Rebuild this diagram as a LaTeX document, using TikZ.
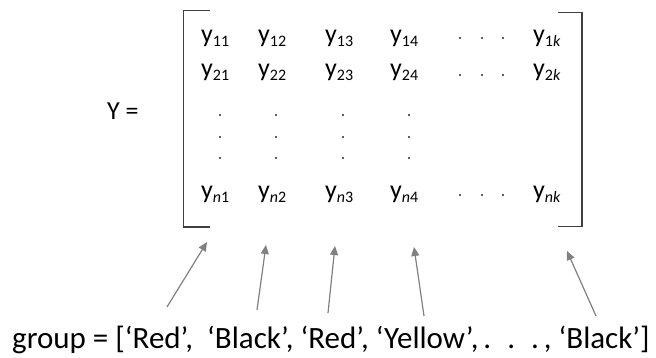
\documentclass[tikz,border=0pt]{standalone}
\usepackage{fontspec}
\setmainfont{Carlito}
\usetikzlibrary{arrows.meta}
\newcommand\mysub[1]{\raisebox{-4pt}{\fontsize{16}{16}\selectfont #1}}
\begin{document}
\begin{tikzpicture}[x=1pt,y=-1pt,
  ent/.style={anchor=base west, inner sep=0pt, font=\fontsize{26}{30}\selectfont},
  brk/.style={line width=1.4pt, draw=black!75},
  arr/.style={draw=black!50, line width=1.2pt, -{Triangle[length=9pt,width=8pt]}},
  dotc/.style={fill=black!85, circle, inner sep=0pt, minimum size=2.3pt}]
\useasboundingbox (0,0) rectangle (656,358);
% Y =
\node[ent] (Y) at (107,120) {Y =};
% brackets
\draw[brk] (210,10.5) -- (183.5,10.5) -- (183.5,227) -- (210,227);
\draw[brk] (558,12.5) -- (582,12.5) -- (582,226.5) -- (558,226.5);
% entries
\node[ent] (e11) at (201,43) {y\mysub{11}};
\node[ent] (e12) at (258,43) {y\mysub{12}};
\node[ent] (e13) at (325,43) {y\mysub{13}};
\node[ent] (e14) at (390,43) {y\mysub{14}};
\node[ent] (e1k) at (533,43) {y\mysub{1\textit{k}}};
\node[ent] (e21) at (201,77) {y\mysub{21}};
\node[ent] (e22) at (258,77) {y\mysub{22}};
\node[ent] (e23) at (325,77) {y\mysub{23}};
\node[ent] (e24) at (390,77) {y\mysub{24}};
\node[ent] (e2k) at (533,77) {y\mysub{2\textit{k}}};
\node[ent] (en1) at (201,199) {y\mysub{\textit{n}1}};
\node[ent] (en2) at (258,199) {y\mysub{\textit{n}2}};
\node[ent] (en3) at (325,199) {y\mysub{\textit{n}3}};
\node[ent] (en4) at (390,199) {y\mysub{\textit{n}4}};
\node[ent] (enk) at (533,199) {y\mysub{\textit{nk}}};
% horizontal dots
\foreach \r/\yy in {1/38,2/75,n/195}{
  \foreach \c/\xx in {a/460,b/482,c/503}{
    \node[dotc] (h\r\c) at (\xx,\yy) {};
  }
}
% vertical dots
\foreach \c/\xx in {1/220,2/276,3/343,4/409}{
  \foreach \r/\yy in {a/115,b/137,c/158}{
    \node[dotc] (v\c\r) at (\xx,\yy) {};
  }
}
% group text
\node[anchor=base west, inner sep=0pt, font=\fontsize{31}{34}\selectfont] (grp) at (12,348)
  {group = [‘Red’,\ \ ‘Black’, ‘Red’, ‘Yellow’,\hspace{5pt}.\hspace{16pt}.\hspace{16pt}.\hspace{5pt}, ‘Black’]};
% arrows
\coordinate (t1) at (167,307); \coordinate (h1) at (207,242);
\coordinate (t2) at (257,310); \coordinate (h2) at (266,245);
\coordinate (t3) at (328,313); \coordinate (h3) at (335,246);
\coordinate (t4) at (424,316); \coordinate (h4) at (414,247);
\coordinate (t5) at (596,316); \coordinate (h5) at (567,251);
\foreach \i in {1,...,5}{ \draw[arr] (t\i) -- (h\i); }
\end{tikzpicture}
\end{document}
